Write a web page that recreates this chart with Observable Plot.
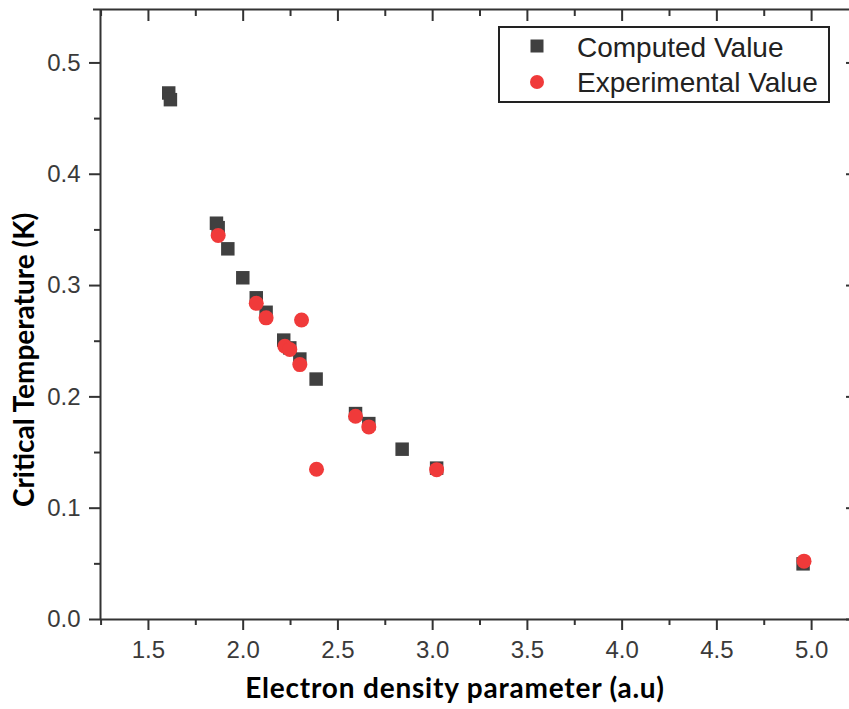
<!DOCTYPE html>
<html>
<head>
<meta charset="utf-8">
<script src="https://cdn.jsdelivr.net/npm/d3@7"></script>
<script src="https://cdn.jsdelivr.net/npm/@observablehq/plot@0.6"></script>
<style>
  html, body { margin: 0; padding: 0; background: #fff; }
  #chart { position: relative; width: 849px; height: 709px; overflow: hidden; }
</style>
</head>
<body>
<div id="chart"></div>
<script>
// Computed values (squares)
const computedX = [1.607, 1.616, 1.859, 1.868, 1.919, 1.998, 2.069, 2.121, 2.214, 2.246, 2.299, 2.385, 2.593, 2.663, 2.839, 3.021, 4.955];
const computedY = [0.473, 0.467, 0.356, 0.352, 0.333, 0.307, 0.289, 0.276, 0.251, 0.244, 0.234, 0.216, 0.185, 0.176, 0.153, 0.136, 0.050];
// Experimental values (circles)
const expX = [1.868, 2.069, 2.121, 2.308, 2.220, 2.246, 2.299, 2.593, 2.663, 2.387, 3.021, 4.960];
const expY = [0.345, 0.284, 0.271, 0.269, 0.2455, 0.2425, 0.229, 0.1826, 0.173, 0.135, 0.1346, 0.0524];

const xMajor = [1.5, 2.0, 2.5, 3.0, 3.5, 4.0, 4.5, 5.0];
const xMinor = [1.25, 1.75, 2.25, 2.75, 3.25, 3.75, 4.25, 4.75];
const yMajor = [0.0, 0.1, 0.2, 0.3, 0.4, 0.5];
const yMinor = [0.05, 0.15, 0.25, 0.35, 0.45];

const xDomain = [1.247, 5.2];
const yDomain = [0, 0.548];

const seriesNames = ["Computed Value", "Experimental Value"];
const colors = ["#404040", "#f03a3a"];

const computed = computedX.map((x, i) => ({x, y: computedY[i]}));
const experimental = expX.map((x, i) => ({x, y: expY[i]}));

const axisColor = "#333";
const labelColor = "#3a3a3a";

const plot = Plot.plot({
  width: 849,
  height: 709,
  marginLeft: 100,
  marginRight: 0,
  marginTop: 9,
  marginBottom: 90,
  x: {domain: xDomain},
  y: {domain: yDomain},
  style: {fontFamily: "'Liberation Sans', Arial, sans-serif", background: "#fff", overflow: "visible"},
  marks: [
    // bottom axis
    Plot.axisX({ticks: xMajor, tickSize: 11, tickPadding: 10, fontSize: 24, tickFormat: d => d.toFixed(1), label: null, stroke: axisColor, strokeWidth: 2, fill: labelColor}),
    Plot.axisX({ticks: xMinor, tickSize: 6, text: null, label: null, stroke: axisColor, strokeWidth: 2}),
    // top mirrored ticks (inward)
    Plot.axisX({anchor: "top", ticks: xMajor, tickSize: -11, text: null, label: null, stroke: axisColor, strokeWidth: 2}),
    Plot.axisX({anchor: "top", ticks: xMinor, tickSize: -6, text: null, label: null, stroke: axisColor, strokeWidth: 2}),
    // left axis
    Plot.axisY({ticks: yMajor, tickSize: 11, tickPadding: 9, fontSize: 24, tickFormat: d => d.toFixed(1), label: null, stroke: axisColor, strokeWidth: 2, fill: labelColor}),
    Plot.axisY({ticks: yMinor, tickSize: 6, text: null, label: null, stroke: axisColor, strokeWidth: 2}),
    // right mirrored ticks
    Plot.axisY({anchor: "right", ticks: yMajor, tickSize: -4, text: null, label: null, stroke: axisColor, strokeWidth: 2}),
    // frame lines
    Plot.ruleX([xDomain[0]], {stroke: axisColor, strokeWidth: 2}),
    Plot.ruleY([yDomain[0]], {stroke: axisColor, strokeWidth: 2}),
    Plot.ruleY([yDomain[1]], {stroke: axisColor, strokeWidth: 2, x1: 1.21, x2: xDomain[1]}),
    // data
    Plot.dot(computed, {x: "x", y: "y", symbol: "square", r: 7.6, fill: colors[0], stroke: null}),
    Plot.dot(experimental, {x: "x", y: "y", symbol: "circle", r: 7.5, fill: colors[1], stroke: null})
  ]
});

document.getElementById("chart").appendChild(plot);

const svg = d3.select(plot);
// axis titles
svg.append("text")
  .attr("x", 455).attr("y", 698)
  .attr("text-anchor", "middle")
  .attr("font-family", "Lato, 'Open Sans', sans-serif")
  .attr("font-weight", "bold")
  .attr("font-size", 28)
  .attr("letter-spacing", 0.8)
  .attr("fill", "#000")
  .text("Electron density parameter (a.u)");

svg.append("text")
  .attr("transform", "translate(34,360) rotate(-90)")
  .attr("text-anchor", "middle")
  .attr("font-family", "Lato, 'Open Sans', sans-serif")
  .attr("font-weight", "bold")
  .attr("font-size", 28)
  .attr("fill", "#000")
  .text("Critical Temperature (K)");

// legend
const lg = svg.append("g").attr("text-anchor", "start");
lg.append("rect").attr("x", 499).attr("y", 27).attr("width", 330).attr("height", 75)
  .attr("fill", "#fff").attr("stroke", "#222").attr("stroke-width", 2);
lg.append("rect").attr("x", 537 - 6.5).attr("y", 46 - 6.5).attr("width", 13).attr("height", 13).attr("fill", colors[0]);
lg.append("circle").attr("cx", 537).attr("cy", 82).attr("r", 7).attr("fill", colors[1]);
lg.append("text").attr("x", 577).attr("y", 57).attr("font-size", 28).attr("text-anchor", "start")
  .attr("font-family", "'Liberation Sans', Arial, sans-serif").attr("fill", "#222").text(seriesNames[0]);
lg.append("text").attr("x", 577).attr("y", 92).attr("font-size", 28).attr("text-anchor", "start")
  .attr("font-family", "'Liberation Sans', Arial, sans-serif").attr("fill", "#222").text(seriesNames[1]);
</script>
</body>
</html>
